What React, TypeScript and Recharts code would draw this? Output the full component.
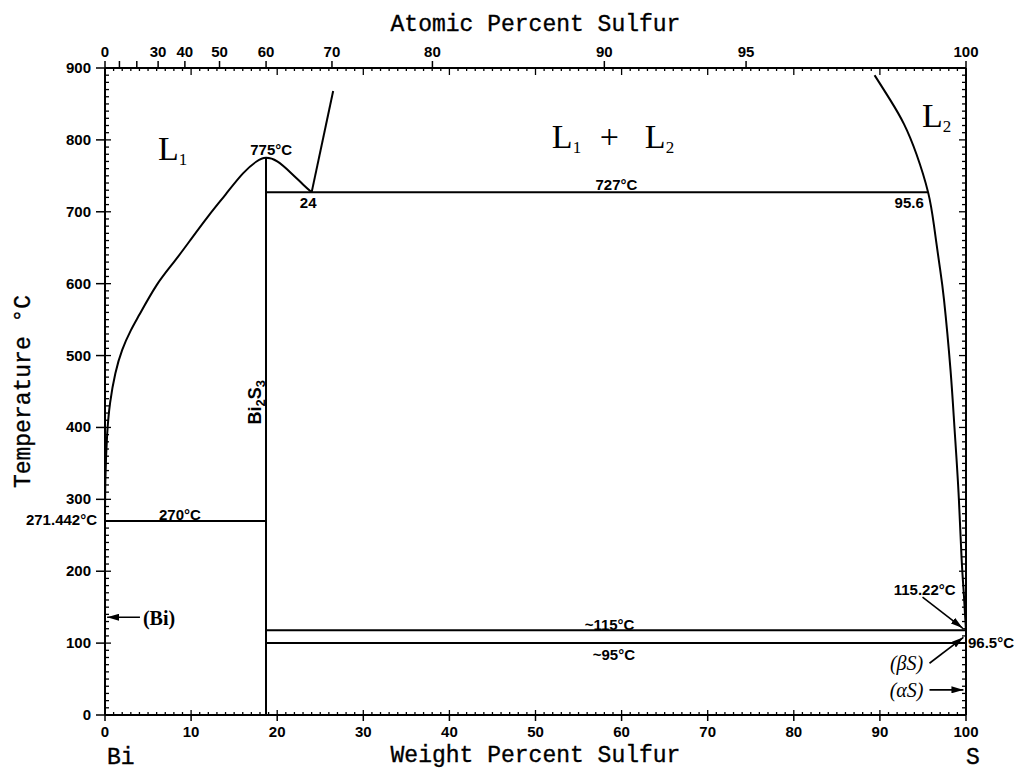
import React from "react";
import { ComposedChart, Line, XAxis, YAxis, ReferenceDot } from "recharts";

// ---------------- data (weight % S, temperature °C) ----------------
// L1 liquidus: Bi side up to the Bi2S3 congruent maximum, down to the monotectic point
const liquidusL1: [number, number][] = [
  [0, 271.4], [0.05, 330], [0.25, 390], [0.6, 435], [1.2, 475], [2, 508], [3, 535], [4, 557],
  [6, 598], [8, 630], [10, 662], [12, 694], [14, 724], [16, 753], [17.6, 770], [18.7, 775],
  [20, 770], [21.6, 754], [23, 738], [24, 727],
];
const miscibilityLeft: [number, number][] = [[24, 727], [26.5, 868]];
const liquidusL2: [number, number][] = [
  [89.38, 890], [91.23, 855], [92.8, 822], [94.25, 780], [95.6, 727], [96.28, 681], [96.92, 626],
  [97.45, 577], [98.2, 480], [98.66, 400], [99.13, 310], [99.48, 220], [99.76, 166], [100, 117],
];
const eutectic270: [number, number][] = [[0, 270], [18.7, 270]];
const compoundBi2S3: [number, number][] = [[18.7, 0], [18.7, 775]];
const monotectic727: [number, number][] = [[18.7, 727], [95.6, 727]];
const line115: [number, number][] = [[18.7, 118], [100, 118]];
const line95: [number, number][] = [[18.7, 100], [100, 100]];

const arrowBi: [number, number][] = [[4.06, 136], [0.25, 136]];
const arrow115: [number, number][] = [[94.95, 164], [99.6, 121]];
const arrowBetaS: [number, number][] = [[95.76, 72], [99.7, 108]];
const arrowAlphaS: [number, number][] = [[95.76, 35], [99.7, 35]];

// ---------------- axis ticks ----------------
const weightMajorTicks = [0, 10, 20, 30, 40, 50, 60, 70, 80, 90, 100];
const tempMajorTicks = [0, 100, 200, 300, 400, 500, 600, 700, 800, 900];
const atomicTicks = [0, 10, 20, 30, 40, 50, 60, 70, 80, 90, 95, 100];
const atomicLabelled = [0, 30, 40, 50, 60, 70, 80, 90, 95, 100];
const M_S = 32.06;
const M_BI = 208.98;

const atomicToWeight = (a: number) => (a === 0 ? 0 : (100 * a * M_S) / (a * M_S + (100 - a) * M_BI));
const weightMinorTicks: number[] = [];
for (let i = 0; i <= 100; i++) weightMinorTicks.push(i);
const tempMinorTicks: number[] = [];
for (let i = 0; i <= 900; i += 10) tempMinorTicks.push(i);
const atomicWt = atomicTicks.map((a) => ({ a, w: atomicToWeight(a) }));
const topTicks = Array.from(new Set([...atomicWt.map((d) => d.w), ...weightMinorTicks])).sort((p, q) => p - q);

const toPts = (arr: [number, number][]) => arr.map(([w, t]) => ({ w, t }));

// ---------------- styles ----------------
const INK = "#000";
const tickFont: any = { fontFamily: "'Liberation Sans', Arial, sans-serif", fontWeight: 700, fontSize: 15, fill: INK };
const noteFont: any = { fontFamily: "'Liberation Sans', Arial, sans-serif", fontWeight: 700, fontSize: 15, fill: INK };
const titleFont: any = {
  fontFamily: "'Liberation Mono', 'DejaVu Sans Mono', monospace",
  fontSize: 23,
  fill: INK,
  stroke: INK,
  strokeWidth: 0.35,
};
const serifFont: any = { fontFamily: "'Liberation Serif', 'DejaVu Serif', serif", fill: INK };

const isMult = (v: number, m: number) => Math.abs(v / m - Math.round(v / m)) < 1e-6;

const BottomTick = (p: any) => {
  const { x, y, payload } = p;
  const v = payload.value;
  const major = weightMajorTicks.includes(v);
  return (
    <g>
      <line x1={x} x2={x} y1={y} y2={y - (major ? 5 : 3)} stroke={INK} strokeWidth={1.3} />
      {major && <line x1={x} x2={x} y1={y} y2={y + 6} stroke={INK} strokeWidth={1.5} />}
      {major && (
        <text x={x} y={y + 22} textAnchor="middle" {...tickFont}>
          {v}
        </text>
      )}
    </g>
  );
};

const TopTick = (p: any) => {
  const { x, y, payload } = p;
  const v = payload.value;
  const at = atomicWt.find((d) => Math.abs(d.w - v) < 1e-6);
  const isW = Math.abs(v - Math.round(v)) < 1e-9;
  const wMajor = isW && isMult(v, 10);
  return (
    <g>
      {isW && <line x1={x} x2={x} y1={y} y2={y + (wMajor ? 7 : 3)} stroke={INK} strokeWidth={1.3} />}
      {at && <line x1={x} x2={x} y1={y} y2={y - 7} stroke={INK} strokeWidth={1.5} />}
      {at && atomicLabelled.includes(at.a) && (
        <text x={x} y={y - 11} textAnchor="middle" {...tickFont}>
          {at.a}
        </text>
      )}
    </g>
  );
};

const LeftTick = (p: any) => {
  const { x, y, payload } = p;
  const v = payload.value;
  const major = tempMajorTicks.includes(v);
  return (
    <g>
      <line x1={x} x2={x + (major ? 6 : 4)} y1={y} y2={y} stroke={INK} strokeWidth={1.3} />
      {major && <line x1={x - 9} x2={x} y1={y} y2={y} stroke={INK} strokeWidth={1.5} />}
      {major && (
        <text x={x - 14} y={y + 5} textAnchor="end" {...tickFont}>
          {v}
        </text>
      )}
    </g>
  );
};

const RightTick = (p: any) => {
  const { x, y, payload } = p;
  const major = tempMajorTicks.includes(payload.value);
  return <line x1={x} x2={x - (major ? 7 : 4)} y1={y} y2={y} stroke={INK} strokeWidth={1.3} />;
};

// annotation helper: render svg text at a data coordinate
const note = (key: string, w: number, t: number, render: (cx: number, cy: number) => any) => (
  <ReferenceDot
    key={key}
    xAxisId="b"
    yAxisId="l"
    x={w}
    y={t}
    r={0}
    ifOverflow="visible"
    shape={(p: any) => render(p.cx, p.cy)}
  />
);

const phaseL = (cx: number, cy: number, sub: string) => (
  <text x={cx} y={cy} {...serifFont} fontSize={34}>
    L
    <tspan fontSize={17} dy={5}>
      {sub}
    </tspan>
  </text>
);

const series = (key: string, arr: [number, number][], type: any = "linear", extra: any = {}) => (
  <Line
    key={key}
    xAxisId="b"
    yAxisId="l"
    data={toPts(arr)}
    dataKey="t"
    type={type}
    stroke={INK}
    strokeWidth={2}
    dot={false}
    activeDot={false}
    isAnimationActive={false}
    {...extra}
  />
);

export default function App() {
  const arrowProps = { strokeWidth: 1.6, markerEnd: "url(#arrowHead)" };
  return (
    <div style={{ position: "absolute", left: 0, top: 0, width: 1026, height: 773, background: "#fff" }}>
      <ComposedChart width={1026} height={773} margin={{ top: 0, right: 0, bottom: 0, left: 0 }}>
        <defs>
          <marker
            id="arrowHead"
            viewBox="0 0 12 7"
            refX="12"
            refY="3.5"
            markerWidth="12"
            markerHeight="7"
            markerUnits="userSpaceOnUse"
            orient="auto"
          >
            <path d="M0,0 L12,3.5 L0,7 z" fill={INK} />
          </marker>
        </defs>
        <XAxis
          xAxisId="b"
          orientation="bottom"
          type="number"
          dataKey="w"
          domain={[0, 100]}
          allowDataOverflow
          ticks={weightMinorTicks}
          interval={0}
          height={58}
          tickSize={0}
          tickMargin={0}
          tickLine={false}
          tick={(p: any) => <BottomTick {...p} />}
          axisLine={{ stroke: INK, strokeWidth: 2 }}
          label={{
            content: (p: any) => {
              const vb = p.viewBox;
              return (
                <g>
                  <text x={vb.x + vb.width / 2} y={vb.y + 47} textAnchor="middle" {...titleFont}>
                    Weight Percent Sulfur
                  </text>
                  <text x={vb.x + 2} y={vb.y + 49} {...titleFont}>
                    Bi
                  </text>
                  <text x={vb.x + vb.width + 7} y={vb.y + 49} textAnchor="middle" {...titleFont}>
                    S
                  </text>
                </g>
              );
            },
          }}
        />
        <XAxis
          xAxisId="t"
          orientation="top"
          type="number"
          dataKey="w"
          domain={[0, 100]}
          allowDataOverflow
          ticks={topTicks}
          interval={0}
          height={68}
          tickSize={0}
          tickMargin={0}
          tickLine={false}
          tick={(p: any) => <TopTick {...p} />}
          axisLine={{ stroke: INK, strokeWidth: 2 }}
          label={{
            content: (p: any) => {
              const vb = p.viewBox;
              return (
                <text x={vb.x + vb.width / 2} y={vb.y + 31} textAnchor="middle" {...titleFont}>
                  Atomic Percent Sulfur
                </text>
              );
            },
          }}
        />
        <YAxis
          yAxisId="l"
          orientation="left"
          type="number"
          domain={[0, 900]}
          allowDataOverflow
          ticks={tempMinorTicks}
          interval={0}
          width={105}
          tickSize={0}
          tickMargin={0}
          tickLine={false}
          tick={(p: any) => <LeftTick {...p} />}
          axisLine={{ stroke: INK, strokeWidth: 2 }}
          label={{
            content: (p: any) => {
              const vb = p.viewBox;
              const cx = 30;
              const cy = vb.y + vb.height / 2;
              return (
                <text x={cx} y={cy} textAnchor="middle" transform={`rotate(-90 ${cx} ${cy})`} {...titleFont}>
                  Temperature °C
                </text>
              );
            },
          }}
        />
        <YAxis
          yAxisId="r"
          orientation="right"
          type="number"
          domain={[0, 900]}
          allowDataOverflow
          ticks={tempMinorTicks}
          interval={0}
          width={60}
          tickSize={0}
          tickMargin={0}
          tickLine={false}
          tick={(p: any) => <RightTick {...p} />}
          axisLine={{ stroke: INK, strokeWidth: 2 }}
        />

        {series("liqL1", liquidusL1, "natural")}
        {series("misc", miscibilityLeft)}
        {series("liqL2", liquidusL2, "natural")}
        {series("e270", eutectic270)}
        {series("bi2s3", compoundBi2S3)}
        {series("m727", monotectic727)}
        {series("l115", line115)}
        {series("l95", line95)}
        {series("aBi", arrowBi, "linear", arrowProps)}
        {series("a115", arrow115, "linear", arrowProps)}
        {series("aBeta", arrowBetaS, "linear", arrowProps)}
        {series("aAlpha", arrowAlphaS, "linear", arrowProps)}

        {note("L1", 6.15, 772, (cx, cy) => phaseL(cx, cy, "1"))}
        {note("L1L2", 51.9, 789, (cx, cy) => (
          <g>
            {phaseL(cx, cy, "1")}
            <text x={cx + 48} y={cy} {...serifFont} fontSize={34}>
              +
            </text>
            {phaseL(cx + 93, cy, "2")}
          </g>
        ))}
        {note("L2", 94.9, 818, (cx, cy) => phaseL(cx, cy, "2"))}
        {note("t775", 19.3, 779, (cx, cy) => (
          <text x={cx} y={cy} textAnchor="middle" {...noteFont}>775°C</text>
        ))}
        {note("t24", 23.6, 705, (cx, cy) => (
          <text x={cx} y={cy} textAnchor="middle" {...noteFont}>24</text>
        ))}
        {note("t727", 59.4, 730, (cx, cy) => (
          <text x={cx} y={cy} textAnchor="middle" {...noteFont}>727°C</text>
        ))}
        {note("t956", 93.4, 705, (cx, cy) => (
          <text x={cx} y={cy} textAnchor="middle" {...noteFont}>95.6</text>
        ))}
        {note("t270", 8.7, 271, (cx, cy) => (
          <text x={cx} y={cy} textAnchor="middle" {...noteFont}>270°C</text>
        ))}
        {note("t115", 58.6, 118, (cx, cy) => (
          <text x={cx} y={cy} textAnchor="middle" {...noteFont}>~115°C</text>
        ))}
        {note("t95", 59.1, 76.5, (cx, cy) => (
          <text x={cx} y={cy} textAnchor="middle" {...noteFont}>~95°C</text>
        ))}
        {note("t271", 0, 264, (cx, cy) => (
          <text x={cx - 8} y={cy} textAnchor="end" {...noteFont}>271.442°C</text>
        ))}
        {note("t11522", 95.2, 167, (cx, cy) => (
          <text x={cx} y={cy} textAnchor="middle" {...noteFont}>115.22°C</text>
        ))}
        {note("t965", 100, 93, (cx, cy) => (
          <text x={cx + 2} y={cy} textAnchor="start" {...noteFont}>96.5°C</text>
        ))}
        {note("tBi", 4.4, 125, (cx, cy) => (
          <text x={cx} y={cy} {...serifFont} fontSize={20} fontWeight={700}>(Bi)</text>
        ))}
        {note("tBeta", 93.1, 62.6, (cx, cy) => (
          <text x={cx} y={cy} textAnchor="middle" {...serifFont} fontSize={20} fontStyle="italic">(βS)</text>
        ))}
        {note("tAlpha", 93.1, 25, (cx, cy) => (
          <text x={cx} y={cy} textAnchor="middle" {...serifFont} fontSize={20} fontStyle="italic">(αS)</text>
        ))}
        {note("tBi2S3", 18.1, 435, (cx, cy) => (
          <text x={cx} y={cy} textAnchor="middle" transform={`rotate(-90 ${cx} ${cy})`} {...noteFont} fontSize={18}>
            Bi
            <tspan fontSize={13} dy={4}>2</tspan>
            <tspan dy={-4}>S</tspan>
            <tspan fontSize={13} dy={4}>3</tspan>
          </text>
        ))}
      </ComposedChart>
    </div>
  );
}
